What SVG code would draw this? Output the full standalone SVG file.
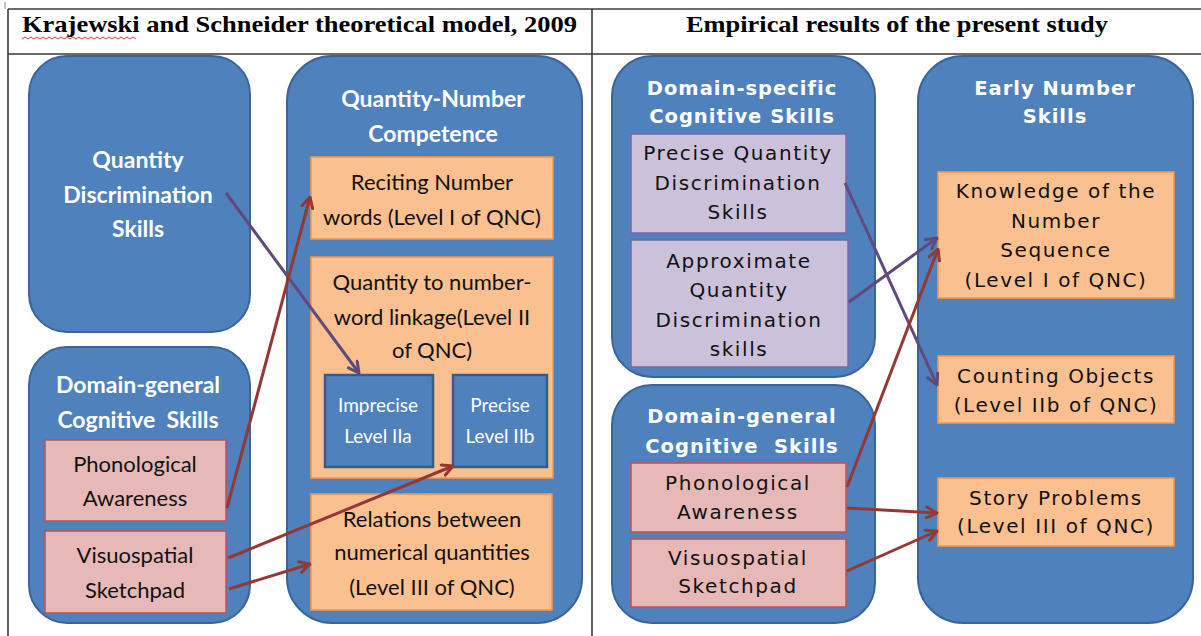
<svg xmlns="http://www.w3.org/2000/svg" width="1201" height="636" viewBox="0 0 1201 636">
<defs>
<style>
.tbl{stroke:#3a3a3a;stroke-width:1.6;fill:none}
.hdr{font-family:"Liberation Serif",serif;font-weight:bold;font-size:24px;fill:#000}
.big{fill:#4F81BD;stroke:#3B659A;stroke-width:2}
.sub{fill:#4F81BD;stroke:#385D8A;stroke-width:2.5}
.org{fill:#FAC090;stroke:#F79646;stroke-width:1.5}
.pnk{fill:#E6B9B8;stroke:#C0504D;stroke-width:1.5}
.lav{fill:#CCC1DA;stroke:#8064A2;stroke-width:1.5}
.lw{font-family:Lato,"Liberation Sans",sans-serif;font-weight:bold;font-size:23px;fill:#fff;text-anchor:middle}
.lb{font-family:Lato,"Liberation Sans",sans-serif;font-size:22px;fill:#111;text-anchor:middle}
.ls{font-family:Lato,"Liberation Sans",sans-serif;font-size:19px;fill:#fff;text-anchor:middle}
.rw{font-family:"DejaVu Sans",Verdana,sans-serif;font-weight:bold;font-size:19.5px;letter-spacing:1px;fill:#fff;text-anchor:middle}
.rb{font-family:"DejaVu Sans",Verdana,sans-serif;font-size:20px;letter-spacing:1.6px;fill:#111;text-anchor:middle}
.ar{stroke:#953735;stroke-width:3;fill:none;marker-end:url(#ahR)}
.ap{stroke:#604A7B;stroke-width:3;fill:none;marker-end:url(#ahP)}
</style>
<marker id="ahR" viewBox="0 0 14 14" refX="12.5" refY="7" markerWidth="14" markerHeight="14" markerUnits="userSpaceOnUse" orient="auto"><path d="M2,1.5 L12.5,7 L2,12.5" fill="none" stroke="#953735" stroke-width="3" stroke-linecap="round" stroke-linejoin="round"/></marker>
<marker id="ahP" viewBox="0 0 14 14" refX="12.5" refY="7" markerWidth="14" markerHeight="14" markerUnits="userSpaceOnUse" orient="auto"><path d="M2,1.5 L12.5,7 L2,12.5" fill="none" stroke="#604A7B" stroke-width="3" stroke-linecap="round" stroke-linejoin="round"/></marker>
</defs>
<rect width="1201" height="636" fill="#fff"/>
<g id="table">
<line class="tbl" x1="8" y1="9" x2="1201" y2="9"/>
<line class="tbl" x1="8" y1="54" x2="1201" y2="54"/>
<line class="tbl" x1="8" y1="9" x2="8" y2="636"/>
<line class="tbl" x1="592" y1="9" x2="592" y2="636"/>
<line x1="5" y1="2" x2="5" y2="9" stroke="#888" stroke-width="1"/>
<text class="hdr" x="22" y="32" textLength="555" lengthAdjust="spacingAndGlyphs">Krajewski and Schneider theoretical model, 2009</text>
<path d="M22,39 l3,-2 l3,2 l3,-2 l3,2 l3,-2 l3,2 l3,-2 l3,2 l3,-2 l3,2 l3,-2 l3,2 l3,-2 l3,2 l3,-2 l3,2 l3,-2 l3,2 l3,-2 l3,2 l3,-2 l3,2 l3,-2 l3,2 l3,-2 l3,2 l3,-2 l3,2 l3,-2 l3,2 l3,-2 l3,2 l3,-2 l3,2 l3,-2 l3,2 l3,-2 l3,2" fill="none" stroke="#e03030" stroke-width="1"/>
<text class="hdr" x="686" y="32" textLength="422" lengthAdjust="spacingAndGlyphs">Empirical results of the present study</text>
</g>
<g id="qds">
<rect class="big" x="29" y="56" width="221" height="276" rx="38"/>
<text class="lw" x="138" y="168">Quantity</text>
<text class="lw" x="138" y="203">Discrimination</text>
<text class="lw" x="138" y="237">Skills</text>
</g>
<g id="dg-left">
<rect class="big" x="29" y="347" width="221" height="276" rx="38"/>
<text class="lw" x="138" y="393">Domain-general</text>
<text class="lw" x="138" y="428" xml:space="preserve">Cognitive  Skills</text>
</g>
<g id="pa-left">
<rect class="pnk" x="45" y="440" width="181" height="81"/>
<text class="lb" x="135" y="472">Phonological</text>
<text class="lb" x="135" y="506">Awareness</text>
</g>
<g id="vs-left">
<rect class="pnk" x="45" y="531" width="181" height="82"/>
<text class="lb" x="135" y="563">Visuospatial</text>
<text class="lb" x="135" y="598">Sketchpad</text>
</g>
<g id="qnc">
<rect class="big" x="287" y="56" width="295" height="567" rx="45"/>
<text class="lw" x="433" y="107">Quantity-Number</text>
<text class="lw" x="433" y="142">Competence</text>
</g>
<g id="reciting">
<rect class="org" x="311" y="157" width="242" height="82"/>
<text class="lb" x="432" y="190">Reciting Number</text>
<text class="lb" x="432" y="225">words (Level I of QNC)</text>
</g>
<g id="linkage">
<rect class="org" x="311" y="257" width="242" height="221"/>
<text class="lb" x="432" y="290">Quantity to number-</text>
<text class="lb" x="432" y="325">word linkage(Level II</text>
<text class="lb" x="432" y="358">of QNC)</text>
</g>
<g id="imprecise">
<rect class="sub" x="325" y="375" width="108" height="92"/>
<text class="ls" x="378" y="412">Imprecise</text>
<text class="ls" x="378" y="443">Level IIa</text>
</g>
<g id="precise">
<rect class="sub" x="453" y="375" width="94" height="92"/>
<text class="ls" x="500" y="412">Precise</text>
<text class="ls" x="500" y="443">Level IIb</text>
</g>
<g id="relations">
<rect class="org" x="311" y="494" width="241" height="116"/>
<text class="lb" x="432" y="527">Relations between</text>
<text class="lb" x="432" y="560">numerical quantities</text>
<text class="lb" x="432" y="595">(Level III of QNC)</text>
</g>
<g id="ds-right">
<rect class="big" x="612" y="56" width="263" height="321" rx="40"/>
<text class="rw" x="742" y="95">Domain-specific</text>
<text class="rw" x="742" y="123">Cognitive Skills</text>
</g>
<g id="pqd">
<rect class="lav" x="631" y="134" width="215" height="99"/>
<text class="rb" x="738" y="160">Precise Quantity</text>
<text class="rb" x="738" y="190">Discrimination</text>
<text class="rb" x="738" y="219">Skills</text>
</g>
<g id="aqd">
<rect class="lav" x="631" y="240" width="217" height="127"/>
<text class="rb" x="739" y="268">Approximate</text>
<text class="rb" x="739" y="297">Quantity</text>
<text class="rb" x="739" y="327">Discrimination</text>
<text class="rb" x="739" y="356">skills</text>
</g>
<g id="dg-right">
<rect class="big" x="612" y="385" width="263" height="238" rx="40"/>
<text class="rw" x="742" y="423">Domain-general</text>
<text class="rw" x="742" y="453" xml:space="preserve">Cognitive  Skills</text>
</g>
<g id="pa-right">
<rect class="pnk" x="631" y="463" width="215" height="69"/>
<text class="rb" x="738" y="490">Phonological</text>
<text class="rb" x="738" y="519">Awareness</text>
</g>
<g id="vs-right">
<rect class="pnk" x="631" y="539" width="215" height="68"/>
<text class="rb" x="738" y="565">Visuospatial</text>
<text class="rb" x="738" y="593">Sketchpad</text>
</g>
<g id="ens">
<rect class="big" x="918" y="56" width="275" height="567" rx="45"/>
<text class="rw" x="1055" y="95">Early Number</text>
<text class="rw" x="1055" y="123">Skills</text>
</g>
<g id="knowledge">
<rect class="org" x="938" y="172" width="236" height="126"/>
<text class="rb" x="1056" y="198">Knowledge of the</text>
<text class="rb" x="1056" y="228">Number</text>
<text class="rb" x="1056" y="257">Sequence</text>
<text class="rb" x="1056" y="287">(Level I of QNC)</text>
</g>
<g id="counting">
<rect class="org" x="938" y="356" width="236" height="67"/>
<text class="rb" x="1056" y="383">Counting Objects</text>
<text class="rb" x="1056" y="412">(Level IIb of QNC)</text>
</g>
<g id="story">
<rect class="org" x="938" y="478" width="236" height="68"/>
<text class="rb" x="1056" y="505">Story Problems</text>
<text class="rb" x="1056" y="533">(Level III of QNC)</text>
</g>
<g id="connectors">
<line class="ap" x1="226" y1="193" x2="359" y2="373"/>
<line class="ar" x1="227" y1="508" x2="310" y2="197"/>
<line class="ar" x1="228" y1="558" x2="453" y2="466"/>
<line class="ar" x1="229" y1="589" x2="310" y2="564"/>
<line class="ap" x1="845" y1="183" x2="937" y2="385"/>
<line class="ap" x1="849" y1="302" x2="937" y2="238"/>
<line class="ar" x1="847" y1="487" x2="938" y2="249"/>
<line class="ar" x1="847" y1="508" x2="937" y2="513"/>
<line class="ar" x1="847" y1="571" x2="937" y2="531"/>
</g>
</svg>
